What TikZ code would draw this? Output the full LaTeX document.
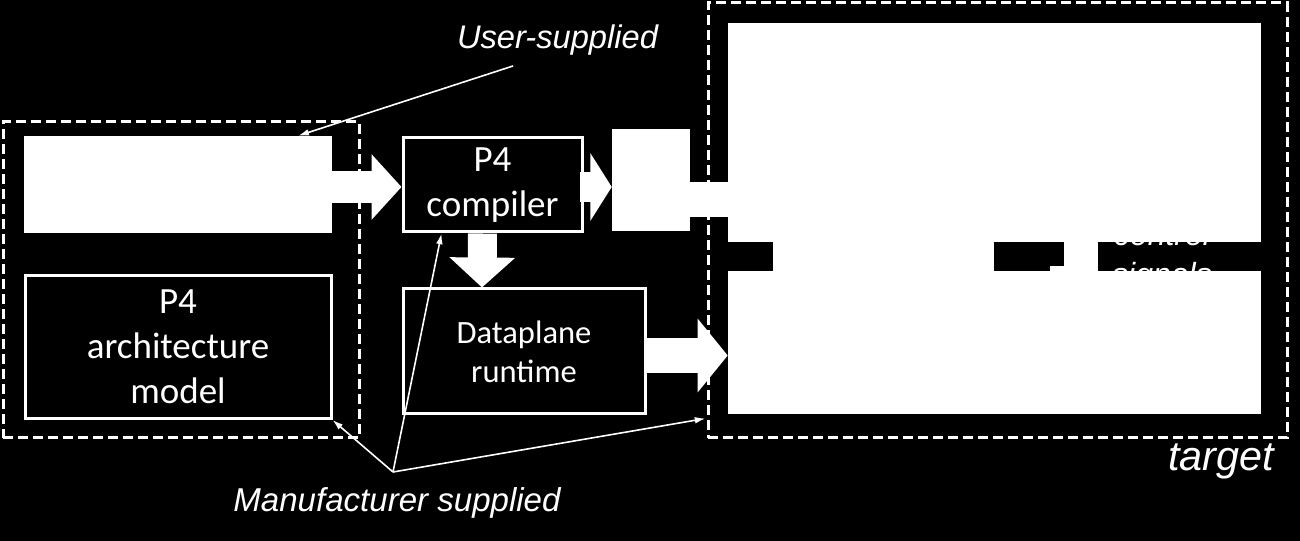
\documentclass[tikz,border=0pt]{standalone}
\usepackage{fontspec}
\setmainfont{Carlito}
\newfontfamily\arialfont{Liberation Sans}
\usetikzlibrary{arrows.meta}
\usetikzlibrary{calc}

\begin{document}
\begin{tikzpicture}[x=0.75pt,y=0.75pt,yscale=-1,xscale=1,
  wbox/.style={draw=white,line width=2.25pt,fill=black,text=white,align=center,inner sep=0pt},
  wfill/.style={fill=white,inner sep=0pt},
  dashbox/.style={draw=white,line width=2.25pt,dash pattern=on 7.5pt off 3.75pt,inner sep=0pt},
  fatarrow/.style={white,line width=24pt,-{Triangle[width=48pt,length=22.5pt]}},
  thinarrow/.style={white,line width=1.2pt,-{Latex[length=8pt,width=5pt]}},
  note/.style={text=white,font=\arialfont\itshape\fontsize{24.5}{29}\selectfont,inner sep=0pt}
]
%background, sets the 1300 x 541 frame
\fill[black] (0,0) rectangle (1300,541);
\useasboundingbox (0,0) rectangle (1300,541);

% Text Node (mostly hidden by the target boxes)
\node[note,align=center,font=\arialfont\itshape\fontsize{24}{30}\selectfont] (sig) at (1162,257) {control\\signals};

%Dashed frames
\node[dashbox,minimum width=267pt,minimum height=237pt] (src) at (181,280) {};
\node[dashbox,minimum width=434.25pt,minimum height=326.25pt] (tgt) at (997.5,220.5) {};

%Boxes
\node[wfill,minimum width=231pt,minimum height=72.75pt] (prog) at (178,184.5) {};
\node[wbox,minimum width=229.5pt,minimum height=107.25pt,font=\fontsize{27.75}{33.75}\selectfont] (arch) at (178,347) {P4\\architecture\\model};
\node[wbox,minimum width=134.25pt,minimum height=70.5pt,font=\fontsize{27.75}{33.75}\selectfont] (comp) at (492.5,185) {P4\\compiler};
\node[wbox,minimum width=181.5pt,minimum height=93.75pt,font=\fontsize{24.4}{29.25}\selectfont] (dp) at (524,351.5) {Dataplane\\runtime};
\node[wfill,minimum width=58.5pt,minimum height=76.5pt] (tbl) at (651,180) {};
\node[wfill,minimum width=399.75pt,minimum height=164.25pt] (ctl) at (994.5,132.5) {};
\node[wfill,minimum width=399.75pt,minimum height=107.25pt] (dpl) at (994.5,342.5) {};

%Links between the two target boxes
\fill[white] (773,240) rectangle (994,273);
\fill[white] (1064,240) rectangle (1098,273);
\fill[white] (1050,266) rectangle (1064,273);

%Block arrows
\draw[fatarrow] ($(prog.east)+(0,2.5)$) coordinate (a1) -- (a1 -| comp.west);
\draw[fatarrow,line width=22.5pt,-{Triangle[width=50pt,length=16pt]}] ($(comp.east)+(-4,2)$) coordinate (a2) -- (a2 -| tbl.west);
\draw[fatarrow,line width=21.75pt] ($(comp.south)+(-10,0)$) -- ($(dp.north)+(-42,0)$);
\draw[fatarrow,line width=26.25pt,-{Triangle[width=54pt,length=22.5pt]}] ($(dp.east)+(0,4)$) coordinate (a3) -- (a3 -| dpl.west);
\draw[white,line width=26.25pt] ($(tbl.east)+(-2,19.5)$) coordinate (a4) -- ($(a4 -| ctl.west)+(2,0)$);

% Text Node
\node[note,anchor=base] (usrl) at (557.5,49) {User-supplied};
\coordinate (usrf) at (513,66);
\draw[thinarrow] (usrf) -- ($(prog.north east)+(-34,0)$);

% Text Node
\node[note,anchor=base,font=\arialfont\itshape\fontsize{24.8}{29}\selectfont] (mfrl) at (397,512) {Manufacturer supplied};
\coordinate (mfr) at (393,472);
\draw[thinarrow] (mfr) -- (arch.south east);
\draw[thinarrow] (mfr) -- ($(comp.south west)+(40,0)$);
\draw[thinarrow] (mfr) -- ($(tgt.south west)+(-1,-21)$);

% Text Node
\node[note,anchor=base east,font=\arialfont\itshape\fontsize{31}{36}\selectfont] (tgtl) at (1274,471) {target};

\end{tikzpicture}
\end{document}
